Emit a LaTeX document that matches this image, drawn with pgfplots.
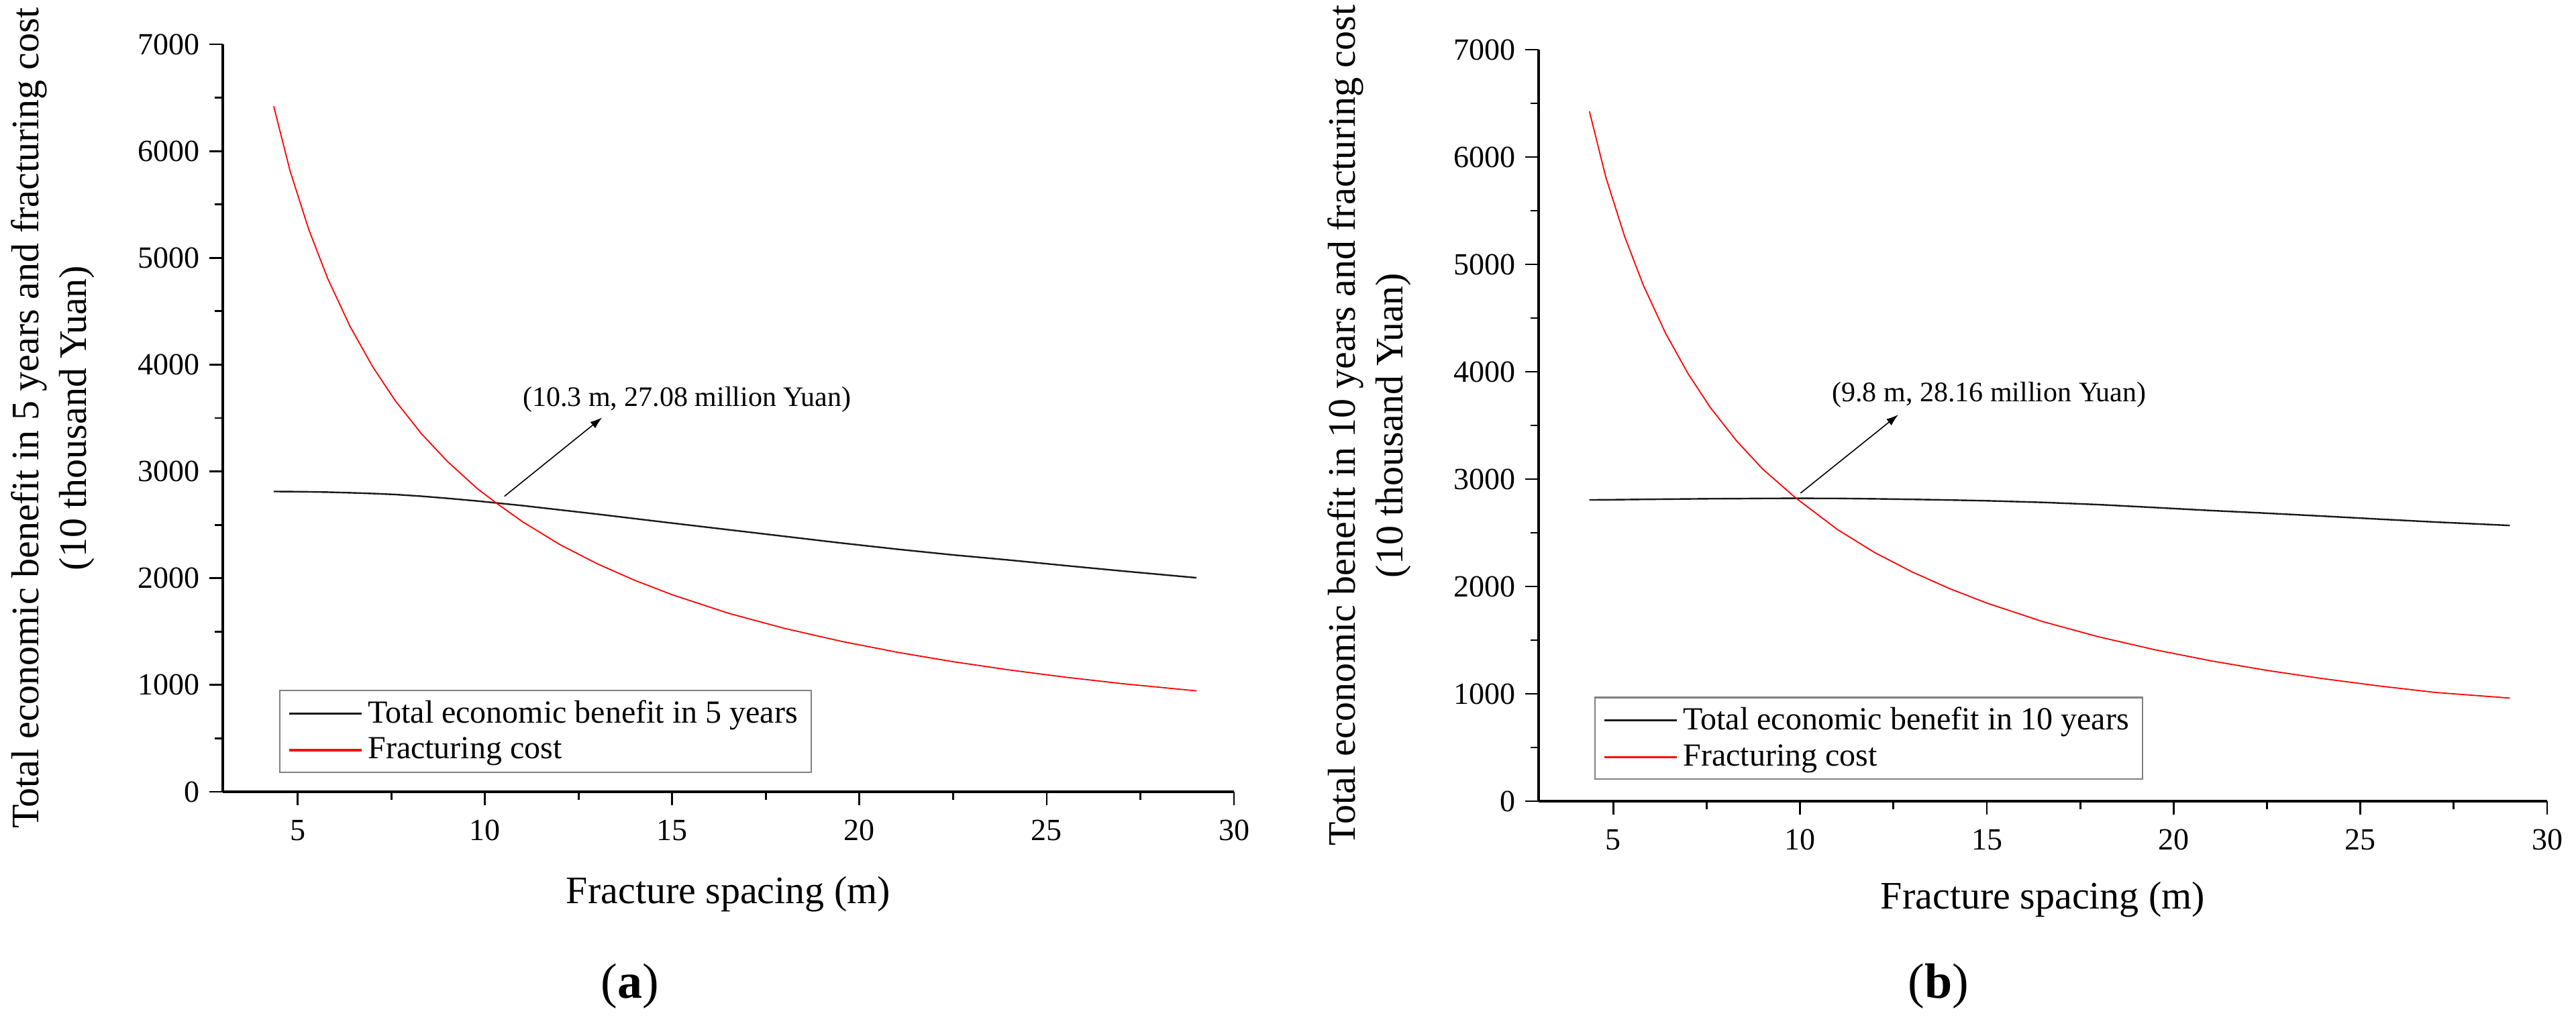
\documentclass[border=0pt]{standalone}
\usepackage{fontspec}
\setmainfont{Liberation Serif}
\usepackage{pgfplots}
\pgfplotsset{compat=1.18}
\usepackage{pgfplotstable}
\usetikzlibrary{arrows.meta}

% fracture spacing (m), benefit and cost (10 thousand Yuan)
\pgfplotstableread{
x     benefit cost
4.36  2812  6420
4.8   2811  5810
5.3   2809  5262
5.8   2806  4808
6.4   2800  4357
7     2793  3982
7.6   2784  3665
8.3   2768  3355
9     2748  3093
9.8   2723  2838
10.3  2705  2705
11    2680  2530
12    2640  2315
13    2600  2135
14    2558  1980
15    2516  1845
16.5  2454  1672
18    2392  1530
19.5  2330  1410
21    2272  1307
22.5  2218  1218
24    2170  1141
25.5  2118  1073
27    2068  1013
29    2004   945
}\fiveyears

\pgfplotstableread{
x     benefit cost
4.36  2806  6425
4.8   2807  5810
5.3   2809  5262
5.8   2811  4808
6.4   2813  4357
7     2815  3982
7.6   2817  3665
8.3   2818  3355
9     2820  3093
9.88  2821  2825
11    2820  2530
12    2816  2315
13    2811  2135
14    2805  1980
15    2798  1845
16.5  2783  1672
18    2762  1530
19.5  2735  1410
21    2707  1307
22.5  2682  1218
24    2655  1141
25.5  2627  1073
27    2600  1013
29    2568   960
}\tenyears

\pgfplotsset{
  origin/.style={
    scale only axis, anchor=south west, clip=false,
    xmin=3, xmax=30, ymin=0, ymax=7000,
    axis x line*=bottom, axis y line*=left,
    axis line style={line width=0.9pt, black},
    xtick={5,10,...,30}, ytick={0,1000,...,7000},
    minor x tick num=1, minor y tick num=1,
    tick align=outside,
    major tick length=5pt, minor tick length=3pt,
    every tick/.style={line width=0.7pt, black},
    every minor tick/.style={line width=0.7pt, black},
    tick label style={font=\fontsize{11.5}{13}\selectfont},
    xticklabel style={yshift=-2pt},
    /pgf/number format/assume math mode=true,
    /pgf/number format/1000 sep={},
    label style={font=\fontsize{14.5}{17.75}\selectfont},
    xlabel={Fracture spacing (m)},
    xlabel style={anchor=center},
    ylabel style={align=center, anchor=center},
    legend cell align=left,
    legend style={draw=gray, line width=0.6pt, anchor=north west,
      font=\fontsize{12}{14}\selectfont, inner xsep=3pt, inner ysep=1.5pt},
    legend image code/.code={\draw[#1, line width=0.8pt] (0pt,0pt) -- (27pt,0pt);},
  },
  benefit/.style={black!90, line width=0.6pt},
  cost/.style={red, line width=0.45pt},
}

\begin{document}
\begin{tikzpicture}
\path[use as bounding box] (0,0) rectangle (959.75pt,384.5pt);

% (a) five years
\begin{axis}[origin,
  at={(83pt,89.5pt)}, width=376.75pt, height=278.5pt,
  ylabel={Total economic benefit in 5 years and fracturing cost\\(10 thousand Yuan)},
  ylabel style={at={(axis description cs:-0.168,0.5)}},
  xlabel style={at={(axis description cs:0.5,-0.1373)}},
  legend style={at={(axis description cs:0.0557,0.1364)}},
]
\addplot[benefit] table[x=x, y=benefit] {\fiveyears};
\addlegendentry{Total economic benefit in 5 years}
\addplot[cost] table[x=x, y=cost] {\fiveyears};
\addlegendentry{Fracturing cost}
\draw[line width=0.4pt, -{Latex[length=4.5pt,width=3pt]}] (axis cs:10.52,2767) -- (axis cs:13.13,3505);
\node[font=\fontsize{10.5}{12}\selectfont] at (axis cs:15.39,3673) {(10.3 m, 27.08 million Yuan)};
\node[font=\fontsize{18.5}{20}\selectfont] at (axis description cs:0.4028,-0.2603) {(\textbf{a})};
\end{axis}

% (b) ten years
\begin{axis}[origin,
  at={(573.25pt,86pt)}, width=375.75pt, height=280pt,
  ylabel={Total economic benefit in 10 years and fracturing cost\\(10 thousand Yuan)},
  ylabel style={at={(axis description cs:-0.168,0.5)}},
  xlabel style={at={(axis description cs:0.5,-0.1313)}},
  legend style={at={(axis description cs:0.0552,0.139)}},
]
\addplot[benefit] table[x=x, y=benefit] {\tenyears};
\addlegendentry{Total economic benefit in 10 years}
\addplot[cost] table[x=x, y=cost] {\tenyears};
\addlegendentry{Fracturing cost}
\draw[line width=0.4pt, -{Latex[length=4.5pt,width=3pt]}] (axis cs:10.01,2869) -- (axis cs:12.63,3600);
\node[font=\fontsize{10.5}{12}\selectfont] at (axis cs:15.06,3788) {(9.8 m, 28.16 million Yuan)};
\node[font=\fontsize{18.5}{20}\selectfont] at (axis description cs:0.3965,-0.2464) {(\textbf{b})};
\end{axis}
\end{tikzpicture}
\end{document}
